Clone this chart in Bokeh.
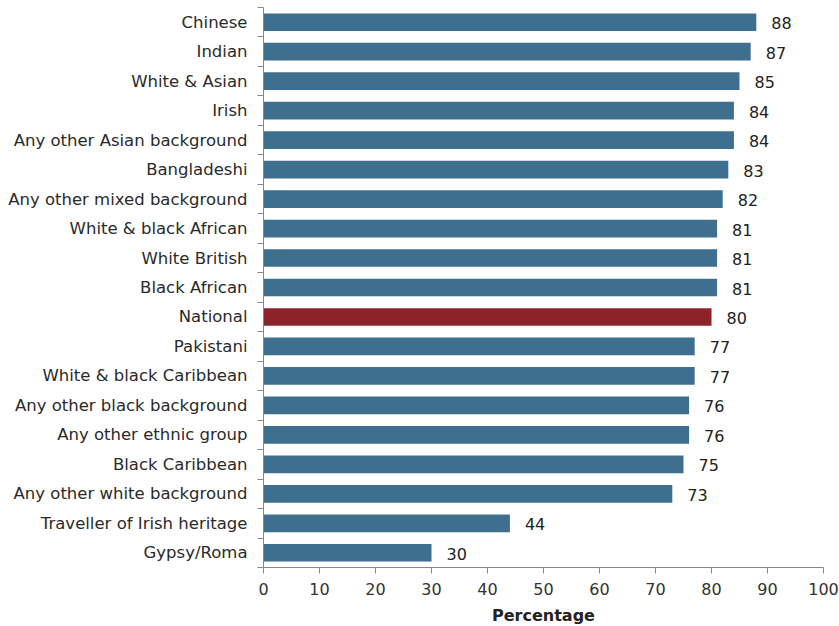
from bokeh.plotting import figure
from bokeh.models import Range1d, FixedTicker, ColumnDataSource
from bokeh.embed import file_html
from bokeh.resources import INLINE

categories = ["Chinese", "Indian", "White & Asian", "Irish", "Any other Asian background",
              "Bangladeshi", "Any other mixed background", "White & black African",
              "White British", "Black African", "National", "Pakistani",
              "White & black Caribbean", "Any other black background", "Any other ethnic group",
              "Black Caribbean", "Any other white background", "Traveller of Irish heritage",
              "Gypsy/Roma"]
values = [88, 87, 85, 84, 84, 83, 82, 81, 81, 81, 80, 77, 77, 76, 76, 75, 73, 44, 30]
x_ticks = [0, 10, 20, 30, 40, 50, 60, 70, 80, 90, 100]

BLUE = "#3F6F8F"
RED = "#8B2328"
FONT = "DejaVu Sans"

n = len(categories)
pos = list(range(n))
colors = [RED if c == "National" else BLUE for c in categories]
src = ColumnDataSource(dict(y=pos, v=values, c=colors, lbl=[str(v) for v in values]))

p = figure(frame_width=560, frame_height=560, output_backend="svg", toolbar_location=None,
           x_range=Range1d(0, 100), y_range=Range1d(n - 0.5, -0.5),
           min_border_left=263, min_border_right=16, min_border_top=7, min_border_bottom=0)
p.outline_line_color = None
p.grid.grid_line_color = None

p.hbar(y="y", right="v", left=0, height=0.6, color="c", line_color=None, source=src)
p.text(x="v", y="y", text="lbl", source=src, x_offset=15, y_offset=1,
       text_align="left", text_baseline="middle", text_font_size="16px",
       text_font={"value": FONT}, text_color="#222222")

xa = p.xaxis[0]
xa.ticker = FixedTicker(ticks=x_ticks)
xa.axis_label = "Percentage"
xa.axis_label_text_font = FONT
xa.axis_label_text_font_style = "bold"
xa.axis_label_text_font_size = "16px"
xa.axis_label_text_color = "#222222"
xa.axis_label_standoff = 8
xa.major_label_text_font = FONT
xa.major_label_text_font_size = "16px"
xa.major_label_text_color = "#333333"
xa.major_label_standoff = 9
xa.major_tick_out = 6
xa.major_tick_in = 0
xa.minor_tick_out = 0
xa.axis_line_color = "#888888"
xa.major_tick_line_color = "#888888"

ya = p.yaxis[0]
ya.ticker = FixedTicker(ticks=pos, minor_ticks=[i - 0.5 for i in range(n + 1)])
ya.major_label_overrides = {i: c for i, c in enumerate(categories)}
ya.major_label_text_font = FONT
ya.major_label_text_font_size = "16.5px"
ya.major_label_text_color = "#2a2a2a"
ya.major_label_standoff = 10
ya.major_tick_out = 0
ya.major_tick_in = 0
ya.minor_tick_out = 6
ya.minor_tick_in = 0
ya.axis_line_color = "#888888"
ya.minor_tick_line_color = "#888888"

open("out.html", "w").write(file_html(p, INLINE))
